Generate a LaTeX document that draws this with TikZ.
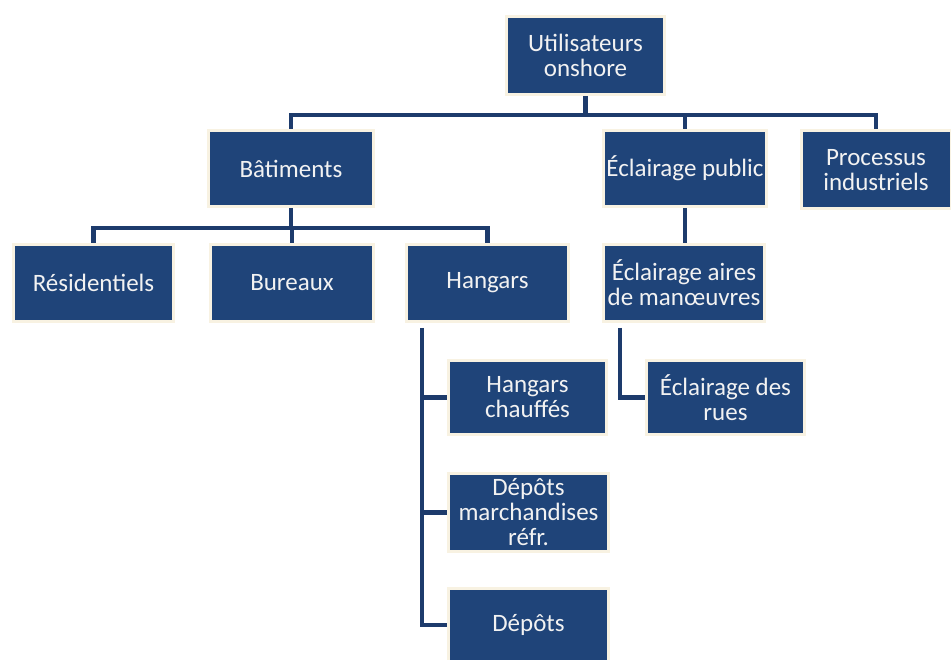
\documentclass[tikz,border=0pt]{standalone}
\usepackage{fontspec}
\setmainfont{Carlito}
\definecolor{boxfill}{HTML}{1F4479}
\definecolor{linec}{HTML}{1D3B6C}
\definecolor{cream}{HTML}{F8F2E2}
\definecolor{txt}{HTML}{F2F2F2}
\begin{document}
\begin{tikzpicture}[x=1pt,y=-1pt,
  box/.style={draw=cream, line width=3pt, fill=boxfill, text=txt,
    font=\fontsize{25}{25}\selectfont, align=center, inner sep=0pt},
  conn/.style={draw=linec, line width=4.5pt}]
\useasboundingbox (0,0) rectangle (951,660);
\fill[white] (0,0) rectangle (951,660);
\clip (0,0) rectangle (951,660);

\node[box, minimum width=158pt, minimum height=78pt] (root) at (585.5,55.5) {Utilisateurs\\onshore};
\node[box, minimum width=165pt, minimum height=76pt] (bat) at (291,168.5) {Bâtiments};
\node[box, minimum width=163pt, minimum height=76pt] (ecl) at (685,168.5) {Éclairage public};
\node[box, minimum width=150pt, minimum height=78pt] (proc) at (876,170) {Processus\\industriels};
\node[box, minimum width=160pt, minimum height=77pt] (res) at (93.5,283) {Résidentiels};
\node[box, minimum width=163pt, minimum height=77pt] (bur) at (292,283) {Bureaux};
\node[box, minimum width=162pt, minimum height=77pt] (hang) at (487.5,283) {Hangars};
\node[box, minimum width=161pt, minimum height=77pt] (eam) at (684,283) {Éclairage aires\\de manœuvres};
\node[box, minimum width=158pt, minimum height=74pt] (hc) at (527.5,397.5) {Hangars\\chauffés};
\node[box, minimum width=160pt, minimum height=78pt] (dmr) at (528.5,512.5) {Dépôts\\marchandises\\réfr.};
\node[box, minimum width=160pt, minimum height=74pt] (dep) at (528.5,625) {Dépôts};
\node[box, minimum width=158pt, minimum height=74pt] (edr) at (725.5,397.5) {Éclairage des\\rues};

\coordinate (b1) at (0,115);
\draw[conn] (root.south) -- (root.south |- b1);
\draw[conn] (bat.north) |- (proc.north |- b1) -- (proc.north);
\draw[conn] (ecl.north) -- (ecl.north |- b1);

\coordinate (b2) at (0,228);
\draw[conn] (bat.south) -- (bat.south |- b2);
\draw[conn] (res.north) |- (hang.north |- b2) -- (hang.north);
\draw[conn] (bur.north) -- (bur.north |- b2);

\draw[conn] (ecl.south) -- (ecl.south |- eam.north);

\coordinate (hx) at (422,0);
\draw[conn] ([yshift=-5pt]hang.south -| hx) |- (dep.west);
\draw[conn] (hx |- hc.west) -- (hc.west);
\draw[conn] (hx |- dmr.west) -- (dmr.west);

\coordinate (ex) at (620,0);
\draw[conn] ([yshift=-5pt]eam.south -| ex) |- (edr.west);
\end{tikzpicture}
\end{document}
